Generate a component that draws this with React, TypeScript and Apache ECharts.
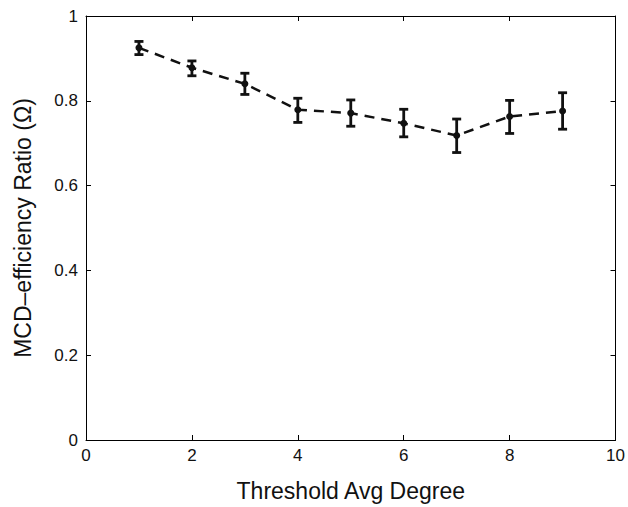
import React, { useEffect, useRef } from "react";
import * as echarts from "echarts";

const degrees = [1, 2, 3, 4, 5, 6, 7, 8, 9];
const ratioMean = [0.925, 0.878, 0.84, 0.779, 0.771, 0.747, 0.718, 0.763, 0.776];
const ratioLow = [0.909, 0.859, 0.815, 0.749, 0.74, 0.715, 0.678, 0.723, 0.733];
const ratioHigh = [0.94, 0.894, 0.865, 0.806, 0.802, 0.78, 0.757, 0.801, 0.819];

const FONT = "'Liberation Sans', Arial, Helvetica, sans-serif";

export default function App() {
  const ref = useRef<HTMLDivElement>(null);
  useEffect(() => {
    if (!ref.current) return;
    document.body.style.margin = "0";
    document.body.style.overflow = "hidden";
    document.documentElement.style.overflow = "hidden";
    const chart = echarts.init(ref.current, null, { renderer: "svg" });
    const axisCommon = {
      axisLine: { show: true, onZero: false, lineStyle: { color: "#000", width: 1 } },
      axisTick: { show: true, inside: true, length: 5, lineStyle: { color: "#000", width: 1 } },
      splitLine: { show: false },
    };
    chart.setOption({
      animation: false,
      backgroundColor: "#fff",
      grid: { left: 86, right: 10, top: 16, bottom: 61, containLabel: false },
      xAxis: [
        {
          type: "value",
          min: 0,
          max: 10,
          interval: 2,
          position: "bottom",
          name: "Threshold Avg Degree",
          nameLocation: "middle",
          nameGap: 39,
          nameTextStyle: { fontFamily: FONT, fontSize: 23, color: "#111" },
          axisLabel: { fontFamily: FONT, fontSize: 17, color: "#111", margin: 7 },
          ...axisCommon,
        },
        {
          type: "value",
          min: 0,
          max: 10,
          interval: 2,
          position: "top",
          axisLabel: { show: false },
          ...axisCommon,
        },
      ],
      yAxis: [
        {
          type: "value",
          min: 0,
          max: 1,
          interval: 0.2,
          position: "left",
          name: "MCD–efficiency Ratio (Ω)",
          nameLocation: "middle",
          nameGap: 52,
          nameTextStyle: { fontFamily: FONT, fontSize: 23, color: "#111" },
          axisLabel: { fontFamily: FONT, fontSize: 17, color: "#111", margin: 8 },
          ...axisCommon,
        },
        {
          type: "value",
          min: 0,
          max: 1,
          interval: 0.2,
          position: "right",
          axisLabel: { show: false },
          ...axisCommon,
        },
      ],
      series: [
        {
          type: "line",
          data: degrees.map((d, i) => [d, ratioMean[i]]),
          lineStyle: { color: "#111", width: 2.5, type: [10, 7] },
          symbol: "circle",
          symbolSize: 7,
          itemStyle: { color: "#111" },
          z: 3,
        },
        {
          type: "custom",
          data: degrees.map((d, i) => [d, ratioLow[i], ratioHigh[i]]),
          renderItem: (params: any, api: any) => {
            const x = api.value(0);
            const lo = api.coord([x, api.value(1)]);
            const hi = api.coord([x, api.value(2)]);
            const cap = 4.5;
            const style = { stroke: "#111", lineWidth: 2.8 };
            return {
              type: "group",
              children: [
                { type: "line", shape: { x1: lo[0], y1: lo[1], x2: hi[0], y2: hi[1] }, style },
                { type: "line", shape: { x1: lo[0] - cap, y1: lo[1], x2: lo[0] + cap, y2: lo[1] }, style },
                { type: "line", shape: { x1: hi[0] - cap, y1: hi[1], x2: hi[0] + cap, y2: hi[1] }, style },
              ],
            };
          },
          z: 4,
        },
      ],
    });
    return () => chart.dispose();
  }, []);
  return <div ref={ref} style={{ width: 628, height: 507 }} />;
}
